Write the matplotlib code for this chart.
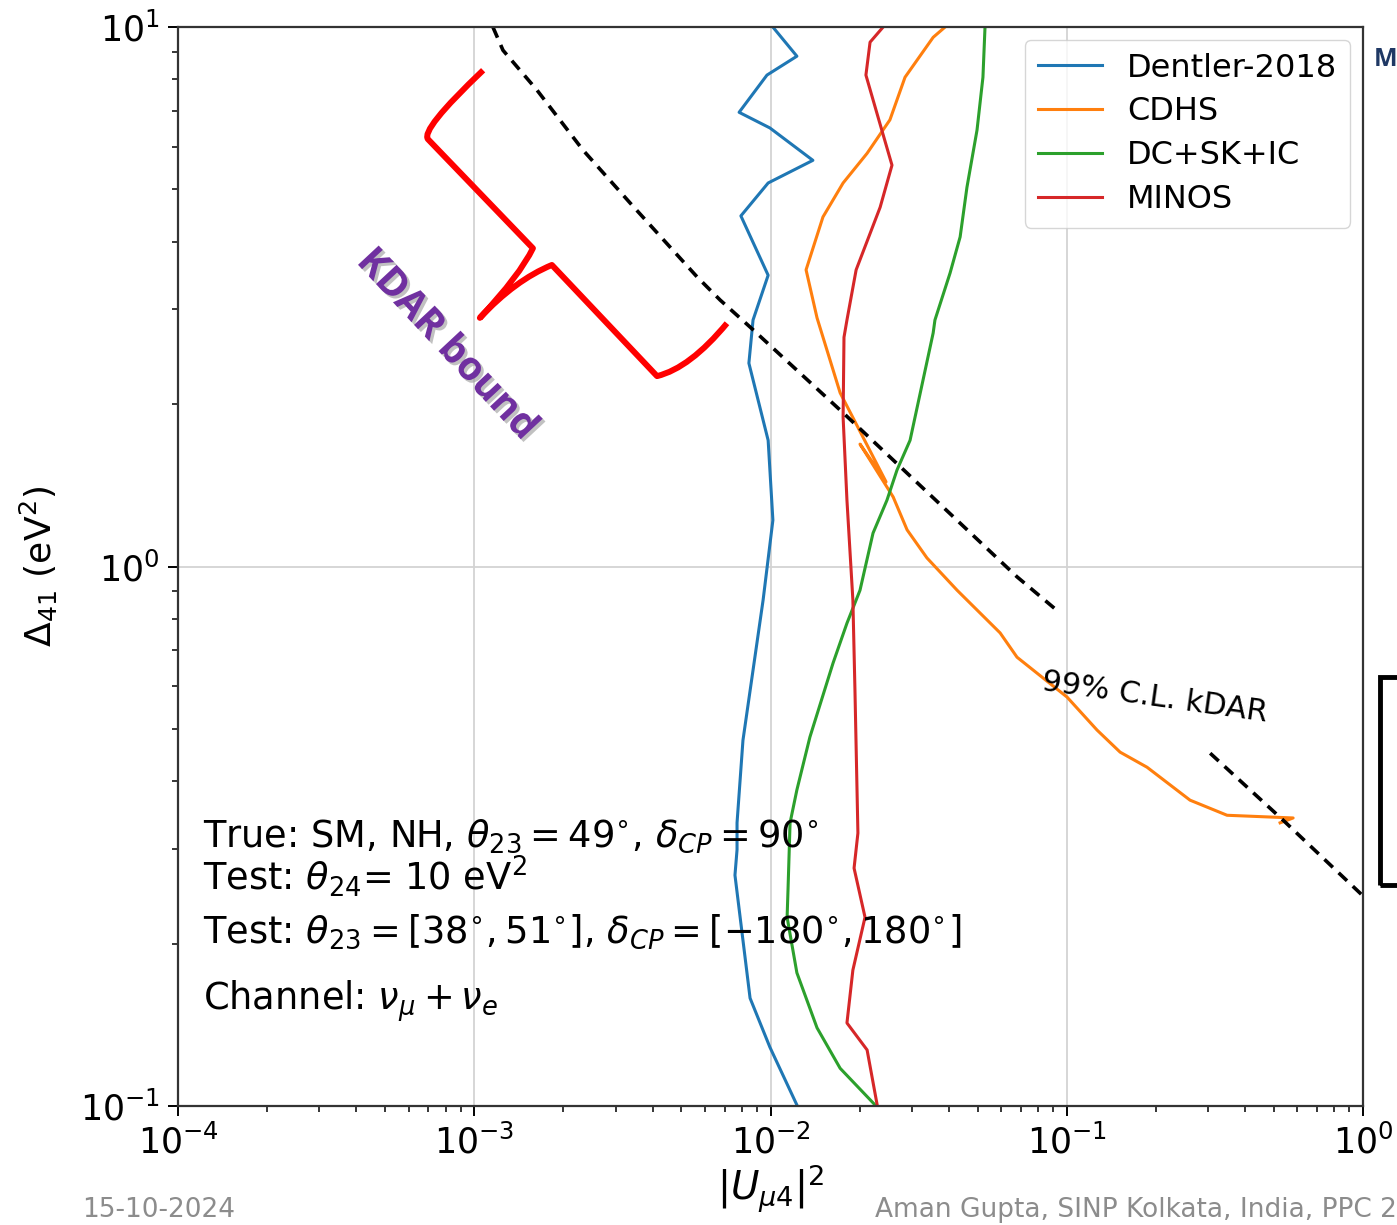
import matplotlib
matplotlib.use("Agg")
import numpy as np
import matplotlib.pyplot as plt
import matplotlib.patheffects as pe
from matplotlib.path import Path
from matplotlib.patches import PathPatch, Rectangle

# curves, stored as log10 values (x = |U_mu4|^2, y = Delta_41)
dentler_lx = [-1.992, -1.911, -2.012, -2.106, -2.002, -1.857, -2.008, -2.100, -2.008, -2.059,
              -2.073, -2.008, -1.992, -2.025, -2.093, -2.113, -2.113, -2.120, -2.069, -2.002, -1.911]
dentler_ly = [1.000, 0.946, 0.911, 0.842, 0.813, 0.753, 0.711, 0.650, 0.540, 0.457,
              0.377, 0.234, 0.086, -0.062, -0.322, -0.475, -0.525, -0.572, -0.800, -0.891, -0.998]

cdhs_lx = [-1.411, -1.451, -1.546, -1.597, -1.674, -1.755, -1.823, -1.880, -1.843, -1.765,
           -1.610, -1.698, -1.586, -1.539, -1.472, -1.370, -1.225, -1.168, -0.999, -0.898,
           -0.820, -0.729, -0.584, -0.459, -0.236, -0.280]
cdhs_ly = [1.000, 0.981, 0.907, 0.828, 0.766, 0.711, 0.648, 0.550, 0.461, 0.322,
           0.157, 0.227, 0.129, 0.068, 0.016, -0.044, -0.123, -0.168, -0.242, -0.303,
           -0.344, -0.372, -0.433, -0.461, -0.466, -0.475]

dcskic_lx = [-1.276, -1.283, -1.303, -1.337, -1.360, -1.394, -1.445, -1.451, -1.529, -1.573,
             -1.607, -1.654, -1.698, -1.742, -1.789, -1.867, -1.911, -1.934, -1.941, -1.944,
             -1.911, -1.843, -1.765, -1.647]
dcskic_ly = [1.000, 0.907, 0.809, 0.703, 0.611, 0.544, 0.457, 0.433, 0.234, 0.179,
             0.123, 0.062, -0.044, -0.105, -0.179, -0.316, -0.414, -0.475, -0.600, -0.650,
             -0.753, -0.855, -0.930, -0.998]

minos_lx = [-1.620, -1.664, -1.678, -1.637, -1.590, -1.630, -1.711, -1.742, -1.752, -1.755,
            -1.742, -1.722, -1.715, -1.705, -1.718, -1.681, -1.722, -1.742, -1.674, -1.640]
minos_ly = [1.000, 0.972, 0.911, 0.833, 0.744, 0.666, 0.550, 0.457, 0.425, 0.277,
            0.123, -0.062, -0.229, -0.494, -0.559, -0.650, -0.748, -0.846, -0.896, -0.998]

# 99% C.L. kDAR contour, two dashed pieces
kdar1_lx = [-2.937, -2.903, -2.788, -2.633, -2.474, -2.248, -2.170, -2.069, -1.755, -1.168, -1.023]
kdar1_ly = [1.000, 0.957, 0.883, 0.772, 0.674, 0.537, 0.494, 0.444, 0.285, -0.019, -0.086]
kdar2_lx = [-0.516, -0.270, -0.003]
kdar2_ly = [-0.346, -0.470, -0.609]

# red brace drawn over the slide (vertices + quadratic control points, log10 units)
brace_lx = [-2.970, -3.183, -3.156, -2.802, -2.846, -2.981, -2.862, -2.738, -2.383, -2.272, -2.147]
brace_ly = [0.920, 0.809, 0.792, 0.590, 0.540, 0.461, 0.531, 0.559, 0.353, 0.368, 0.451]
brace_codes = [Path.MOVETO, Path.CURVE3, Path.CURVE3, Path.LINETO, Path.CURVE3, Path.CURVE3,
               Path.CURVE3, Path.CURVE3, Path.LINETO, Path.CURVE3, Path.CURVE3]

series = [("Dentler-2018", dentler_lx, dentler_ly, "#1f77b4"),
          ("CDHS", cdhs_lx, cdhs_ly, "#ff7f0e"),
          ("DC+SK+IC", dcskic_lx, dcskic_ly, "#2ca02c"),
          ("MINOS", minos_lx, minos_ly, "#d62728")]

fig = plt.figure(figsize=(13.97, 12.25), dpi=100)
ax = fig.add_axes([0.1274, 0.0971, 0.8483, 0.8808])

for name, lx, ly, col in series:
    ax.plot(10 ** np.array(lx), 10 ** np.array(ly), color=col, lw=2.2, label=name)

for lx, ly in [(kdar1_lx, kdar1_ly), (kdar2_lx, kdar2_ly)]:
    ax.plot(10 ** np.array(lx), 10 ** np.array(ly), color="black", lw=2.6,
            ls=(0, (3.2, 2.2)))

ax.set_xscale("log")
ax.set_yscale("log")
ax.set_xlim(1e-4, 1e0)
ax.set_ylim(1e-1, 1e1)
ax.grid(True, which="major", color="#d3d3d3", lw=1.3)
for s in ax.spines.values():
    s.set_color("#333333")
    s.set_linewidth(1.6)
ax.tick_params(which="major", length=7, width=1.4, pad=6, labelsize=25)
ax.tick_params(which="minor", length=4.5, width=1.1)

ax.set_xlabel(r"$|U_{\mu 4}|^2$", fontsize=28, labelpad=2)
ax.set_ylabel(r"$\Delta_{41}$ (eV$^2$)", fontsize=26, labelpad=14)

leg = ax.legend(loc="upper right", fontsize=23, borderaxespad=0.4, handlelength=2.0,
                labelspacing=0.4, handletextpad=0.8, borderpad=0.4)

ax.text(10 ** -0.702, 10 ** -0.242, "99% C.L. kDAR", fontsize=22, rotation=-8,
        ha="center", va="center")

info = [(0.240, r"True: SM, NH, $\theta_{23} = 49^{\circ}$, $\delta_{CP} = 90^{\circ}$"),
        (0.200, r"Test: $\theta_{24}$= 10 eV$^2$"),
        (0.151, r"Test: $\theta_{23} = [38^{\circ}, 51^{\circ}]$, $\delta_{CP} = [-180^{\circ}, 180^{\circ}]$"),
        (0.089, r"Channel: $\nu_{\mu} + \nu_e$")]
for yy, s in info:
    ax.text(0.021, yy, s, transform=ax.transAxes, fontsize=26.5, va="baseline", ha="left")

# brace in axes fractions so the quadratic curves stay smooth
bx = (np.array(brace_lx) + 4) / 4
by = (np.array(brace_ly) + 1) / 2
brace = Path(np.column_stack([bx, by]), brace_codes)
ax.add_patch(PathPatch(brace, facecolor="none", edgecolor="#ff0000", lw=4.3,
                       capstyle="butt", joinstyle="round", transform=ax.transAxes, zorder=5))
ax.text(10 ** -3.092, 10 ** 0.411, "KDAR bound", fontsize=28.5, fontweight="bold",
        family=["Open Sans", "DejaVu Sans"], color="#7030a0", rotation=-47,
        ha="center", va="center", rotation_mode="anchor",
        path_effects=[pe.SimplePatchShadow(offset=(2, -2), shadow_rgbFace="#999999", alpha=0.6),
                      pe.Normal()])

# slide decorations around the plot
fig.text(1374 / 1397, 1 - 60 / 1225, "M", fontsize=18, fontweight="bold", color="#1f3864",
         family=["Open Sans", "DejaVu Sans"], ha="left", va="center")
fig.add_artist(Rectangle((1380 / 1397, 1 - 885 / 1225), 0.05, 208 / 1225, transform=fig.transFigure,
                         facecolor="none", edgecolor="black", lw=3.5))
fig.text(82 / 1397, 1 - 1210 / 1225, "15-10-2024", fontsize=19, color="#8c8c8c",
         family=["Liberation Sans Narrow", "DejaVu Sans"], ha="left", va="center")
fig.text(1.0, 1 - 1210 / 1225, "Aman Gupta, SINP Kolkata, India, PPC 2", fontsize=19,
         color="#8c8c8c", family=["Liberation Sans Narrow", "DejaVu Sans"],
         ha="right", va="center")

fig.savefig("out.png", dpi=100)
